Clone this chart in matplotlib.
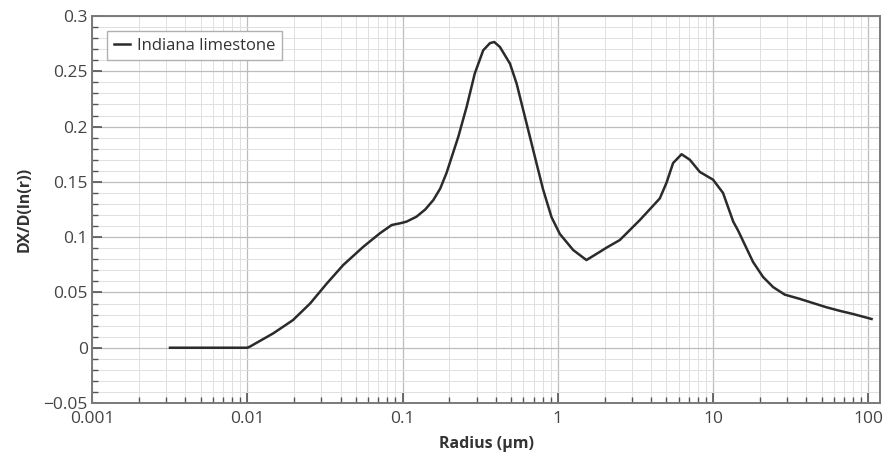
import matplotlib.pyplot as plt
from matplotlib.ticker import MultipleLocator, LogLocator, FixedFormatter, FixedLocator

# digitised pore size distribution
radius = [0.00318, 0.005, 0.008, 0.0100, 0.0104, 0.0147, 0.0197, 0.0254, 0.0325,
          0.0415, 0.0559, 0.0715, 0.0852, 0.0962, 0.1060, 0.1230, 0.1400,
          0.1580, 0.1750, 0.1920, 0.2290, 0.2590, 0.2920, 0.3310, 0.3660,
          0.3900, 0.4240, 0.4920, 0.5430, 0.5990, 0.6610, 0.7290, 0.8050,
          0.9120, 1.0300, 1.2560, 1.5300, 1.8700, 2.0600, 2.5100, 3.3800,
          4.5400, 5.0100, 5.5300, 6.2700, 7.0900, 8.2200, 10.000, 11.600,
          13.500, 14.500, 18.100, 21.000, 24.400, 29.000, 36.200, 45.000,
          53.800, 65.000, 79.800, 105.00]
dxdlnr = [0.0, 0.0, 0.0, 0.0, 0.0010, 0.0130, 0.0250, 0.0400, 0.0580,
          0.0748, 0.0913, 0.1035, 0.1110, 0.1125, 0.1140, 0.1185, 0.1250,
          0.1336, 0.1440, 0.1580, 0.1910, 0.2180, 0.2480, 0.2690, 0.2755,
          0.2765, 0.2720, 0.2570, 0.2390, 0.2150, 0.1910, 0.1670, 0.1430,
          0.1180, 0.1030, 0.0884, 0.0793, 0.0868, 0.0905, 0.0974, 0.1155,
          0.1350, 0.1490, 0.1670, 0.1750, 0.1700, 0.1590, 0.1520, 0.1400,
          0.1140, 0.1060, 0.0776, 0.0640, 0.0548, 0.0480, 0.0442, 0.0400,
          0.0366, 0.0335, 0.0305, 0.0260]

xticks = [0.001, 0.01, 0.1, 1, 10, 100]
xticklabels = ["0.001", "0.01", "0.1", "1", "10", "100"]
yticks = [-0.05, 0, 0.05, 0.1, 0.15, 0.2, 0.25, 0.3]
yticklabels = ["\u22120.05", "0", "0.05", "0.1", "0.15", "0.2", "0.25", "0.3"]

plt.rcParams['font.family'] = ['Open Sans', 'DejaVu Sans']

fig = plt.figure(figsize=(8.88, 4.67), dpi=100)
ax = fig.add_axes([0.1036, 0.137, 0.8874, 0.8287])

ax.plot(radius, dxdlnr, color="#2b2b2b", lw=1.8, label="Indiana limestone",
        solid_joinstyle="round")

ax.set_xscale("log")
ax.set_xlim(0.001, 119)
ax.set_ylim(-0.05, 0.3)

ax.xaxis.set_major_locator(FixedLocator(xticks))
ax.xaxis.set_major_formatter(FixedFormatter(xticklabels))
ax.xaxis.set_minor_locator(LogLocator(base=10, subs=range(2, 10), numticks=20))
ax.set_yticks(yticks)
ax.set_yticklabels(yticklabels)
ax.yaxis.set_minor_locator(MultipleLocator(0.01))

ax.grid(which="major", color="#bdbdbd", lw=0.9)
ax.grid(which="minor", color="#e0e0e0", lw=0.7)
ax.set_axisbelow(True)

ax.tick_params(which="major", direction="in", length=7, width=1.2, color="#555555",
               labelsize=12.5, labelcolor="#444444", pad=3)
ax.tick_params(which="minor", direction="in", length=4, width=1.0, color="#555555")
ax.tick_params(axis="x", pad=6)

for s in ax.spines.values():
    s.set_color("#7a7a7a")
    s.set_linewidth(1.4)

ax.set_xlabel("Radius (\u03bcm)", fontsize=11.5, fontweight="bold", color="#333333", labelpad=6)
ax.set_ylabel("DX/D(ln(r))", fontsize=11.5, fontweight="bold", color="#333333", labelpad=8)

leg = ax.legend(loc="upper left", fontsize=12, fancybox=False, handlelength=1.0,
                handletextpad=0.4, borderaxespad=0.9, framealpha=1, borderpad=0.4)
leg.get_frame().set_edgecolor("#b0b0b0")
leg.get_frame().set_linewidth(1.0)
for t in leg.get_texts():
    t.set_color("#333333")

fig.savefig("out.png", dpi=100)
